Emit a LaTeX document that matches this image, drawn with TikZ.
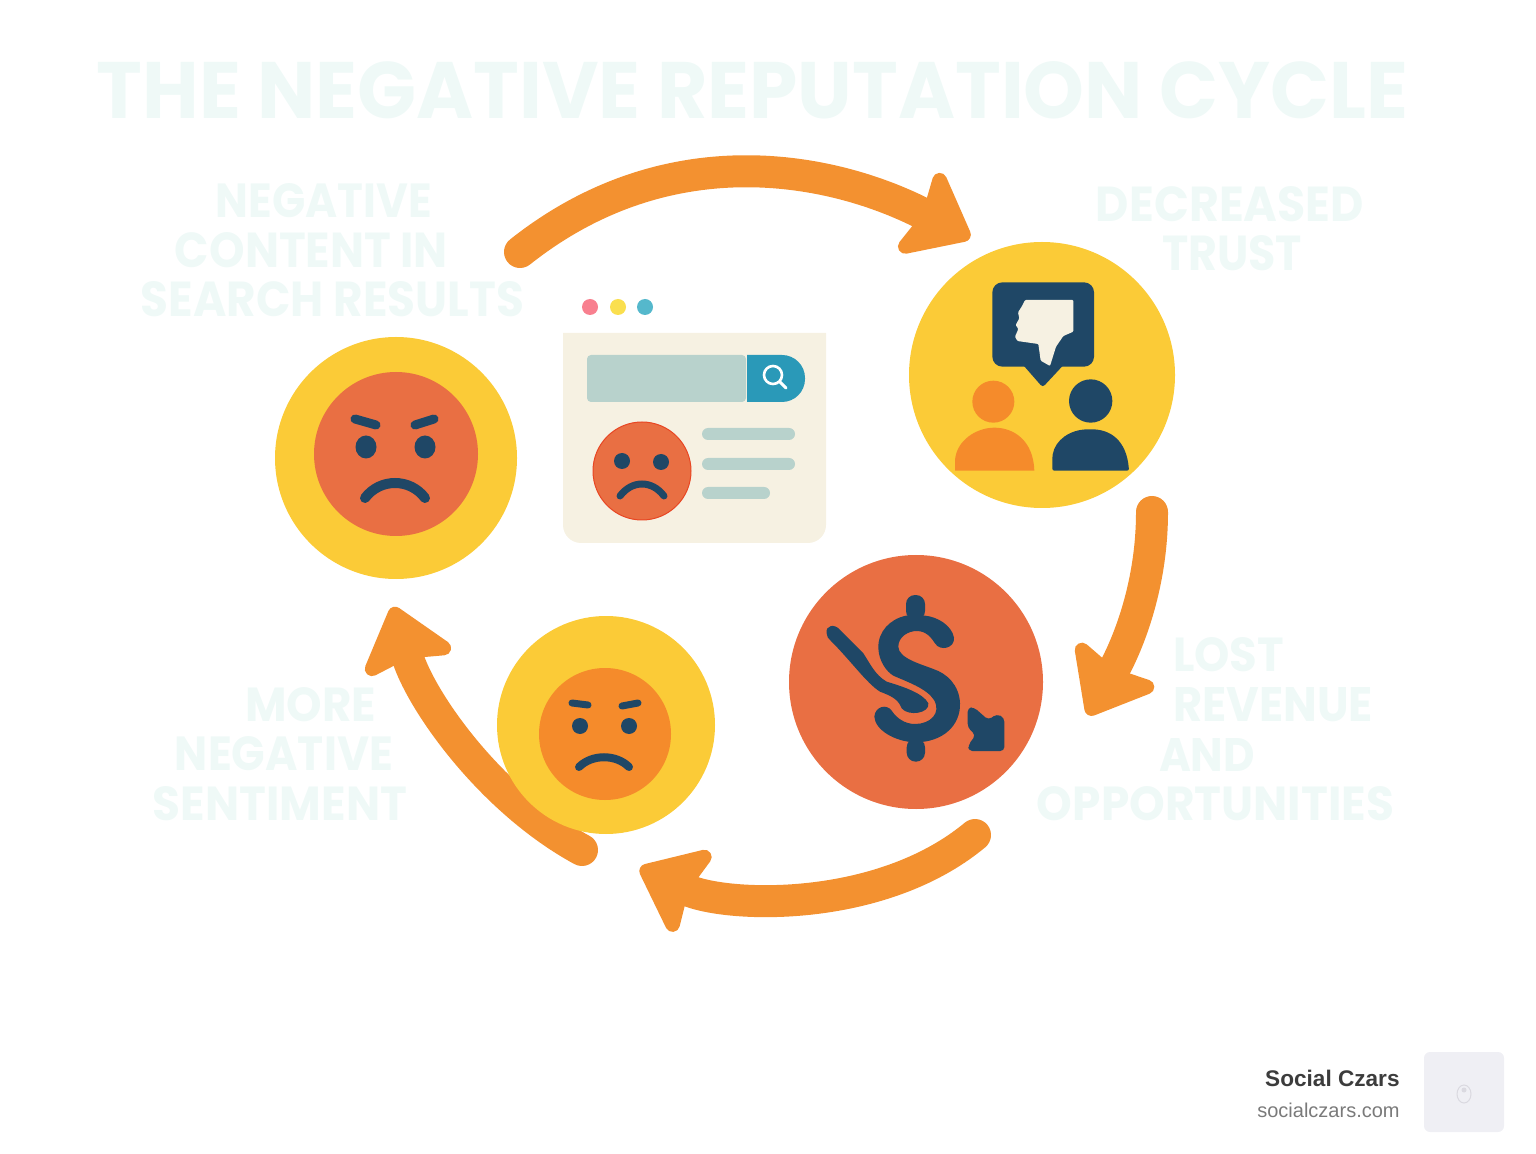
\documentclass[tikz,border=0pt]{standalone}
\usepackage{graphicx}
\usepackage{fontspec}
\setmainfont{Poppins}
\newfontfamily\footfont{Liberation Sans}
\usetikzlibrary{arrows.meta}
\definecolor{sunny}{HTML}{FBCB37}
\definecolor{coral}{HTML}{E96F43}
\definecolor{amber}{HTML}{F58B2B}
\definecolor{swoosh}{HTML}{F39130}
\definecolor{navy}{HTML}{1F4766}
\definecolor{paper}{HTML}{F6F1E2}
\definecolor{sage}{HTML}{B8D2CC}
\definecolor{lagoon}{HTML}{2A99B8}
\definecolor{pale}{HTML}{EFF9F7}
\definecolor{dotpink}{HTML}{F8808F}
\definecolor{dotyellow}{HTML}{FADF4F}
\definecolor{dotteal}{HTML}{55B8CC}
\definecolor{faceline}{HTML}{E84623}
\definecolor{inkdark}{HTML}{3C3C3C}
\definecolor{inkgrey}{HTML}{7A7A7A}
\definecolor{logobox}{HTML}{EFEFF4}
\definecolor{logomark}{HTML}{DAD9E0}
\newlength\pxlen
\pxlen=.5pt
\newcommand{\fitline}[3]{\resizebox{#1\pxlen}{#2\pxlen}{\bfseries #3}}
\tikzset{
  disc/.style={circle,inner sep=0,minimum size=#1*.5pt},
  swing/.style={line width=16pt,line cap=round,draw=swoosh,
    -{Stealth[length=34pt,width=54pt,inset=5pt,round,line width=8pt]}},
  paletext/.style={inner sep=0,text=pale},
  feat/.style={line width=#1*.5pt,draw=navy,line cap=round},
  zoomed/.style={shift={(#1)},x=.16667pt,y=-.16667pt},
}
\begin{document}
\begin{tikzpicture}[x=.5pt,y=-.5pt]
\useasboundingbox (0,0) rectangle (1536,1154);
%arrows go under the discs
\coordinate (topS) at (520,252);
\coordinate (topE) at (970,238);
\coordinate (rightS) at (1152,512);
\coordinate (rightE) at (1088,715);
\coordinate (lowS) at (975,835);
\coordinate (lowE) at (640,868);
\coordinate (leftS) at (582,850);
\coordinate (leftE) at (393,607);
\draw[swing] (topS) .. controls (670,133) and (835,168) .. (topE);
\draw[swing] (rightS) .. controls (1152,590) and (1125,650) .. (rightE);
\draw[swing] (lowS) .. controls (880,914) and (725,908) .. (lowE);
\draw[swing] (leftS) .. controls (490,800) and (420,700) .. (leftE);
%discs
\node[disc=242,fill=sunny] (angry) at (396,458) {};
\node[disc=164,fill=coral] (angryface) at (396,454) {};
\node[disc=266,fill=sunny] (trust) at (1042,375) {};
\node[disc=254,fill=coral] (money) at (916,682) {};
\node[disc=218,fill=sunny] (upset) at (606,725) {};
\node[disc=132,fill=amber] (upsetface) at (605,734) {};
%big face
\fill[navy] (366,447) ellipse[x radius=10.5,y radius=11.5] (425,447) ellipse[x radius=10.5,y radius=11.5];
\draw[feat=9] (355,419) -- (376,425) (434,419) -- (415,425);
\draw[feat=10] (365,498) .. controls (380,478) and (410,478) .. (425,498);
%small face
\fill[navy] (580,726) circle[radius=8] (629,726) circle[radius=8];
\draw[feat=7] (572,703) -- (588,705) (638,703) -- (622,706);
\draw[feat=8] (579,767) .. controls (592,754) and (616,754) .. (629,767);
%browser card
\node[disc=16,fill=dotpink] (dotA) at (590,307) {};
\node[disc=16,fill=dotyellow] (dotB) at (618,307) {};
\node[disc=16,fill=dotteal] (dotC) at (645,307) {};
\fill[paper] (563,333) -- (826,333) [rounded corners=9pt] -- (826,543) -- (563,543) [sharp corners] -- cycle;
\fill[sage,rounded corners=2pt] (587,355) rectangle (746,402);
\fill[lagoon] (747,355) [rounded corners=11.5pt] -- (805,355) -- (805,402) [sharp corners] -- (747,402) -- cycle;
\draw[white,line width=1.3pt] (773,375) circle[radius=9];
\draw[white,line width=1.5pt,line cap=round] (780,382) -- (786,388);
\node[disc=98,fill=coral,draw=faceline,line width=.5pt] (listface) at (642,471) {};
\fill[navy] (622,461) circle[radius=8] (661,462) circle[radius=8];
\draw[feat=7] (620,496) .. controls (632,480) and (652,480) .. (664,496);
\fill[sage,rounded corners=3pt] (702,428) rectangle (795,440);
\fill[sage,rounded corners=3pt] (702,458) rectangle (795,470);
\fill[sage,rounded corners=3pt] (702,487) rectangle (770,499);
%trust icon
\begin{scope}[zoomed={900,230}]
\fill[navy,rounded corners=5pt] (277,157) rectangle (582,410);
\fill[navy,rounded corners=1.5pt] (365,400) -- (495,400) -- (428,472) -- cycle;
\fill[paper,rounded corners=.5pt] (375,210) -- (520,210) -- (520,305) -- (490,318) -- (468,350) -- (450,408) -- (422,392) -- (415,342) -- (352,333) -- (345,320) -- (355,297) -- (347,285) -- (358,265) -- (354,247) -- (365,230) -- cycle;
\fill[amber] (280,515) circle[radius=63];
\fill[amber] (165,722) -- (165,690) .. controls (170,630) and (230,593) .. (283,593) .. controls (340,593) and (400,630) .. (403,722) -- cycle;
\fill[navy] (572,513) circle[radius=65];
\fill[navy,rounded corners=1pt] (457,722) -- (457,680) .. controls (465,630) and (510,598) .. (570,598) .. controls (630,598) and (680,630) .. (687,722) -- cycle;
\end{scope}
%dollar icon
\begin{scope}[zoomed={780,545}]
\fill[navy,rounded corners=4.5pt] (378,225) -- (378,150) -- (435,150) -- (435,225) -- cycle;
\fill[navy,rounded corners=4.5pt] (380,580) -- (380,650) -- (435,650) -- (435,580) -- cycle;
\fill[navy] (378,212) .. controls (330,222) and (293,260) .. (295,310) .. controls (297,350) and (320,380) .. (340,392)
  .. controls (380,410) and (440,430) .. (462,465) .. controls (485,505) and (450,537) .. (405,537)
  .. controls (375,537) and (350,520) .. (335,497) .. controls (320,475) and (285,485) .. (283,515)
  .. controls (285,555) and (345,590) .. (405,592) .. controls (490,592) and (542,540) .. (540,475)
  .. controls (538,420) and (500,385) .. (460,372) .. controls (425,358) and (355,340) .. (355,305)
  .. controls (355,275) and (385,258) .. (410,258) .. controls (440,258) and (455,280) .. (465,295)
  .. controls (480,320) and (525,310) .. (522,278) .. controls (515,240) and (470,215) .. (435,212) -- cycle;
\fill[navy] (140,265) .. controls (135,240) and (165,235) .. (180,255) -- (250,325)
  .. controls (270,355) and (285,390) .. (320,410) .. controls (370,425) and (430,445) .. (445,475)
  .. controls (450,505) and (385,515) .. (365,490) .. controls (355,465) and (340,455) .. (300,440)
  .. controls (260,415) and (215,350) .. (150,285) .. controls (145,280) and (140,275) .. (140,265) -- cycle;
\fill[navy,rounded corners=2pt] (563,488) -- (582,487) -- (625,525) -- (650,507) -- (673,518) -- (673,618) -- (565,618) -- (565,600) -- (587,570) -- (563,548) -- cycle;
\end{scope}
%pale captions
\node[paletext] (title) at (752.5,90.5) {\fitline{1311}{57}{THE NEGATIVE REPUTATION CYCLE}};
\node[paletext] (negA) at (324,201) {\fitline{216}{34}{NEGATIVE}};
\node[paletext] (negB) at (311.5,250.5) {\fitline{273}{35}{CONTENT IN}};
\node[paletext] (negC) at (332.5,299.5) {\fitline{383}{35}{SEARCH RESULTS}};
\node[paletext] (trustA) at (1230,204.5) {\fitline{268}{35}{DECREASED}};
\node[paletext] (trustB) at (1232,253.5) {\fitline{140}{35}{TRUST}};
\node[paletext] (lostA) at (1228.5,655) {\fitline{111}{34}{LOST}};
\node[paletext] (lostB) at (1273,705) {\fitline{200}{34}{REVENUE}};
\node[paletext] (lostC) at (1207,754.5) {\fitline{96}{33}{AND}};
\node[paletext] (lostD) at (1215.5,804) {\fitline{357}{34}{OPPORTUNITIES}};
\node[paletext] (moreA) at (310.5,705) {\fitline{131}{34}{MORE}};
\node[paletext] (moreB) at (284,754) {\fitline{218}{34}{NEGATIVE}};
\node[paletext] (moreC) at (280,804) {\fitline{254}{34}{SENTIMENT}};
%footer
\node[anchor=base east,inner sep=0,text=inkdark,font=\footfont\bfseries\fontsize{11.3}{14}\selectfont] (brand) at (1400,1086) {Social Czars};
\node[anchor=base east,inner sep=0,text=inkgrey,font=\footfont\fontsize{10}{12}\selectfont] (site) at (1400,1117) {socialczars.com};
\node[rounded corners=3pt,fill=logobox,minimum size=40pt,inner sep=0] (logo) at (1464,1092) {};
\draw[logomark,line width=.5pt] (1464,1094) ellipse[x radius=7,y radius=9];
\fill[logomark] (1464,1090) circle[radius=2.5];
\end{tikzpicture}
\end{document}
